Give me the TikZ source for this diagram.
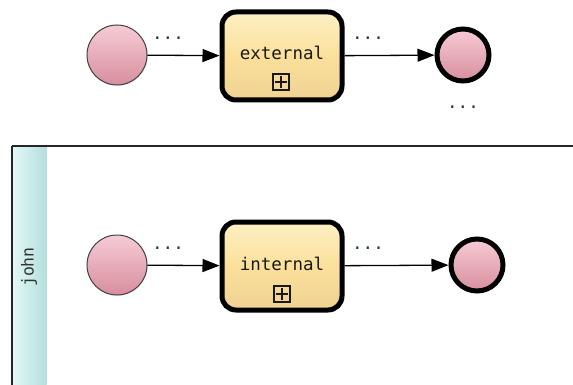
\documentclass[tikz,border=0pt]{standalone}
\usepackage{fontspec}
\setmonofont{DejaVu Sans Mono}
\usetikzlibrary{arrows.meta,shadows}
\definecolor{pinkT}{HTML}{F6CBD5}
\definecolor{pinkB}{HTML}{D88E9E}
\definecolor{taskT}{HTML}{FDF0C4}
\definecolor{taskM}{HTML}{FBE09B}
\definecolor{taskB}{HTML}{EFD293}
\definecolor{laneL}{HTML}{E2F8F6}
\definecolor{laneR}{HTML}{B3DEDC}
\definecolor{dotc}{HTML}{1F3550}
\tikzset{
  startev/.style={circle, minimum size=60pt, inner sep=0pt, draw=black!75, line width=1pt,
    top color=pinkT, bottom color=pinkB, drop shadow={opacity=0.15,shadow xshift=1pt,shadow yshift=-1pt}},
  endev/.style={circle, minimum size=52pt, inner sep=0pt, draw=black, line width=5pt,
    top color=pinkT, bottom color=pinkB},
  taskbox/.style={rounded corners=14pt, draw=black, line width=5pt, minimum width=120pt, minimum height=88pt,
    shade, shading=axis, top color=taskT, bottom color=taskB, middle color=taskM, inner sep=0pt},
  tasklab/.style={font=\ttfamily\fontsize{17.5}{20}\selectfont, text=black!90, inner sep=0pt},
  flow/.style={draw=black, line width=1.3pt, -{Triangle[length=17pt,width=13pt]}},
  dots/.style={font=\ttfamily\fontsize{17.5}{18}\selectfont, text=dotc, inner sep=0pt},
  plusbox/.style={draw=black!90, line width=1.3pt, minimum size=16pt, inner sep=0pt},
  plusline/.style={black!90, line width=1.3pt}
}
\begin{document}
\begin{tikzpicture}[x=1pt,y=-1pt]
\useasboundingbox (0,0) rectangle (573,385);
\clip (0,0) rectangle (573,385);
% pool
\node[anchor=north west, minimum width=34pt, minimum height=250pt, inner sep=0pt,
  left color=laneL, right color=laneR] (lane) at (12.5,146.5) {};
\draw[black!85, line width=1.2pt] (12,146) -- (573,146);
\draw[black!85, line width=1.2pt] (12,146) -- (12,385);
\node[rotate=90, font=\ttfamily\fontsize{16.5}{18}\selectfont, text=black!80] (john) at (29,267) {john};

% top row
\node[startev] (s1) at (117,55) {};
\node[taskbox] (t1) at (282,56) {};
\node[endev] (e1) at (463,55) {};
\node[tasklab] (t1lab) at (282,53) {external};
\node[plusbox] (p1) at (281,82) {};
\draw[plusline] ([yshift=-3pt]p1.north) -- ([yshift=3pt]p1.south) ([xshift=3pt]p1.west) -- ([xshift=-3pt]p1.east);
\draw[flow] (s1) -- (t1);
\draw[flow] (t1) -- (e1);
\node[dots] (d1) at (168,38) {...};
\node[dots] (d2) at (368,38) {...};
\node[dots] (d3) at (463,107) {...};

% bottom row
\node[startev] (s2) at (117,265) {};
\node[taskbox] (t2) at (282,266) {};
\node[endev] (e2) at (477,265) {};
\node[tasklab] (t2lab) at (282,264) {internal};
\node[plusbox] (p2) at (282,294) {};
\draw[plusline] ([yshift=-3pt]p2.north) -- ([yshift=3pt]p2.south) ([xshift=3pt]p2.west) -- ([xshift=-3pt]p2.east);
\draw[flow] (s2) -- (t2);
\draw[flow] (t2) -- (e2);
\node[dots] (d4) at (168,248) {...};
\node[dots] (d5) at (368,248) {...};
\end{tikzpicture}
\end{document}
